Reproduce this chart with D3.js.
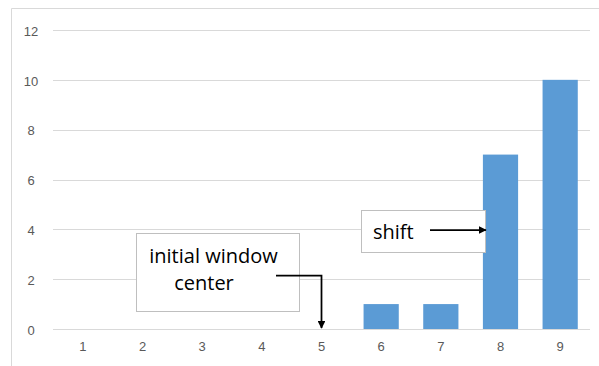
<!DOCTYPE html>
<html>
<head>
<meta charset="utf-8">
<script src="https://cdn.jsdelivr.net/npm/d3@7"></script>
<style>
  body { margin: 0; background: #fff; }
  svg { display: block; font-family: "Open Sans", "Noto Sans", sans-serif; }
</style>
</head>
<body>
<div id="chart"></div>
<script>
// dữ liệu
const categories = ["1", "2", "3", "4", "5", "6", "7", "8", "9"];
const values = [0, 0, 0, 0, 0, 1, 1, 7, 10];
const yTicks = [0, 2, 4, 6, 8, 10, 12];

const W = 599, H = 366;
const margin = { top: 30, right: 9, bottom: 37, left: 53 },
    width = 590 - margin.left,
    height = 329 - margin.top;

const svg = d3.select("#chart")
    .append("svg")
    .attr("width", W)
    .attr("height", H);

// khung ngoài (chỉ thấy cạnh trái và cạnh trên)
svg.append("path")
    .attr("d", `M11.5,${H} L11.5,8.5 L${W},8.5`)
    .attr("fill", "none")
    .attr("stroke", "#d9d9d9")
    .attr("stroke-width", 1);

const chart = svg.append("g")
    .attr("transform", `translate(${margin.left},${margin.top})`);

const x = d3.scaleBand()
    .domain(categories)
    .range([0, width])
    .paddingInner(0.41)
    .paddingOuter(0.205);

const y = d3.scaleLinear()
    .domain([0, 12])
    .range([height, 0]);

// lưới ngang
chart.append("g")
    .selectAll("line")
    .data(yTicks)
    .enter()
    .append("line")
    .attr("x1", 0)
    .attr("x2", width)
    .attr("y1", d => Math.round(y(d)) + 0.5)
    .attr("y2", d => Math.round(y(d)) + 0.5)
    .attr("stroke", "#d9d9d9")
    .attr("stroke-width", 1);

// trục y
const yAxis = chart.append("g")
    .call(d3.axisLeft(y).tickValues(yTicks).tickSize(0).tickPadding(15));
yAxis.select(".domain").remove();
yAxis.selectAll("text")
    .attr("fill", "#595959")
    .style("font-size", "13px")
    .attr("text-anchor", "middle")
    .attr("x", -22)
    .attr("dy", "0.4em");

// trục x
const xAxis = chart.append("g")
    .attr("transform", `translate(0,${height})`)
    .call(d3.axisBottom(x).tickSize(0).tickPadding(13));
xAxis.select(".domain").remove();
xAxis.selectAll("text")
    .attr("fill", "#595959")
    .style("font-size", "13px");

// cột
chart.selectAll(".bar")
    .data(values)
    .enter()
    .append("rect")
    .attr("class", "bar")
    .attr("x", (d, i) => x(categories[i]))
    .attr("y", d => y(d))
    .attr("width", x.bandwidth())
    .attr("height", d => height - y(d))
    .attr("fill", "#5b9bd5");

// mũi tên
const defs = svg.append("defs");
defs.append("marker")
    .attr("id", "arrow")
    .attr("viewBox", "0 0 10 10")
    .attr("refX", 9)
    .attr("refY", 5)
    .attr("markerWidth", 4.5)
    .attr("markerHeight", 4.5)
    .attr("orient", "auto")
    .append("path")
    .attr("d", "M0,0 L10,5 L0,10 Z")
    .attr("fill", "#000");

// chú thích "initial window center"
const note1 = svg.append("g");
note1.append("rect")
    .attr("x", 136.5).attr("y", 233.5)
    .attr("width", 163).attr("height", 78)
    .attr("fill", "#fff")
    .attr("stroke", "#bfbfbf");
note1.append("text")
    .attr("x", 213.5).attr("y", 263)
    .attr("text-anchor", "middle")
    .style("font-size", "20px")
    .attr("fill", "#000")
    .text("initial window");
note1.append("text")
    .attr("x", 204).attr("y", 290)
    .attr("text-anchor", "middle")
    .style("font-size", "20px")
    .attr("fill", "#000")
    .text("center");

const cx5 = margin.left + x("5") + x.bandwidth() / 2;
svg.append("path")
    .attr("d", `M276,275.5 L${cx5},275.5 L${cx5},328`)
    .attr("fill", "none")
    .attr("stroke", "#000")
    .attr("stroke-width", 1.75)
    .attr("marker-end", "url(#arrow)");

// chú thích "shift"
const note2 = svg.append("g");
note2.append("rect")
    .attr("x", 361.5).attr("y", 210.5)
    .attr("width", 124).attr("height", 42)
    .attr("fill", "#fff")
    .attr("stroke", "#bfbfbf");
note2.append("text")
    .attr("x", 373).attr("y", 239)
    .style("font-size", "20px")
    .attr("fill", "#000")
    .text("shift");

svg.append("path")
    .attr("d", `M430,230 L${margin.left + x("8") + 3},230`)
    .attr("fill", "none")
    .attr("stroke", "#000")
    .attr("stroke-width", 1.75)
    .attr("marker-end", "url(#arrow)");
</script>
</body>
</html>
